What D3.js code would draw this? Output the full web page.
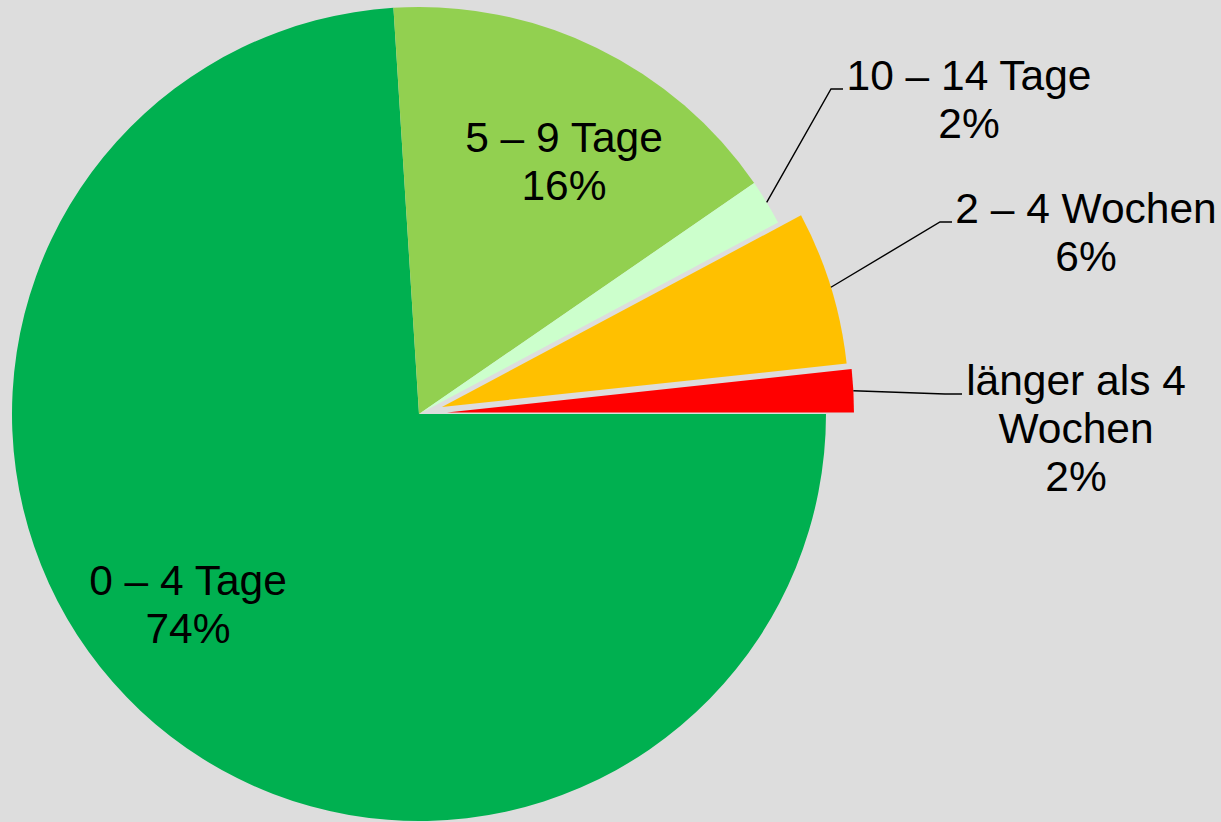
<!DOCTYPE html>
<html>
<head>
<meta charset="utf-8">
<script src="https://cdn.jsdelivr.net/npm/d3@7"></script>
<style>
  html, body { margin: 0; padding: 0; background: #DDDDDD; }
  svg { display: block; }
  text { font-family: "Liberation Sans", Arial, sans-serif; font-size: 42.5px; fill: #000; }
</style>
</head>
<body>
<div id="chart"></div>
<script>
// ---- data ----
const categories = ["0 – 4 Tage", "5 – 9 Tage", "10 – 14 Tage", "2 – 4 Wochen", "länger als 4 Wochen"];
const values = [74.0, 16.4, 1.8, 6.1, 1.7];
const colors = ["#00B050", "#92D050", "#CCFFCC", "#FFC000", "#FF0000"];
// label line breaks (text only)
const labelLines = [["0 – 4 Tage"], ["5 – 9 Tage"], ["10 – 14 Tage"], ["2 – 4 Wochen"], ["länger als 4", "Wochen"]];

// ---- layout ----
const W = 1221, H = 822;
const cx = 419, cy = 414, R = 407;
const explode = [0, 0, 0, 24, 28];
const lineH = 48;
// label anchor (center x, first baseline y) and leader elbows (null = inside label)
const labelLayout = [
  { x: 188, y: 595, leader: null },
  { x: 564, y: 152, leader: null },
  { x: 969, y: 90, leader: [[831, 89], [843, 89]] },
  { x: 1086, y: 223, leader: [[940, 222], [952, 222]] },
  { x: 1076, y: 395, leader: [[945, 394], [962, 394]] }
];

const svg = d3.select("#chart").append("svg").attr("width", W).attr("height", H);
svg.append("rect").attr("width", W).attr("height", H).attr("fill", "#DDDDDD");

const pie = d3.pie().sort(null).value(d => d).startAngle(Math.PI / 2).endAngle(Math.PI / 2 + 2 * Math.PI);
const arcs = pie(values);
const arc = d3.arc().innerRadius(0).outerRadius(R);

const g = svg.append("g").attr("transform", `translate(${cx},${cy})`);

arcs.forEach((a, i) => {
  const mid = (a.startAngle + a.endAngle) / 2;
  const dx = explode[i] * Math.sin(mid), dy = -explode[i] * Math.cos(mid);
  g.append("path")
    .attr("d", arc(a))
    .attr("transform", `translate(${dx},${dy})`)
    .attr("fill", colors[i]);
});

const total = d3.sum(values);
arcs.forEach((a, i) => {
  const L = labelLayout[i];
  const mid = (a.startAngle + a.endAngle) / 2;
  if (L.leader) {
    const r0 = R + explode[i];
    const start = [cx + r0 * Math.sin(mid), cy - r0 * Math.cos(mid)];
    const pts = [start].concat(L.leader);
    svg.append("path")
      .attr("d", d3.line()(pts))
      .attr("fill", "none")
      .attr("stroke", "#000")
      .attr("stroke-width", 1.4);
  }
  const lines = labelLines[i].concat([Math.round(values[i] / total * 100) + "%"]);
  const t = svg.append("text").attr("text-anchor", "middle");
  lines.forEach((s, k) => {
    t.append("tspan").attr("x", L.x).attr("y", L.y + k * lineH).text(s);
  });
});
</script>
</body>
</html>
